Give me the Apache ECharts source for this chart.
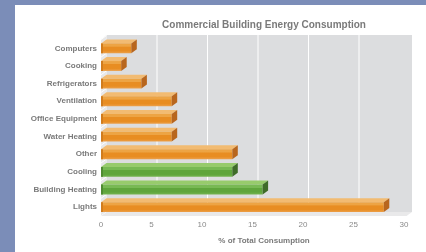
<!DOCTYPE html>
<html><head><meta charset="utf-8">
<script src="https://cdn.jsdelivr.net/npm/echarts@6/dist/echarts.min.js"></script>
<style>html,body{margin:0;padding:0;background:#fff}#c{width:426px;height:252px}</style>
</head><body><div id="c"></div>
<script>
const categories = ['Computers','Cooking','Refrigerators','Ventilation','Office Equipment','Water Heating','Other','Cooling','Building Heating','Lights'];
const values = [3,2,4,7,7,7,13,13,16,28];
const greenCategories = ['Cooling','Building Heating'];
const xTicks = [0,5,10,15,20,25,30];
const titleText = 'Commercial Building Energy Consumption';
const xAxisName = '% of Total Consumption';

const DX = 5.5, DY = -4;
const FONT = '"Liberation Sans", Arial, sans-serif';
const PAL = {
  orange: {top:'#f2bb72', f1:'#eda444', f2:'#e88d22', f3:'#eca04a', cap:'#b8661e', left:'#d07c1e'},
  green: {top:'#97cb6c', f1:'#78b954', f2:'#5fa53c', f3:'#74b450', cap:'#3f6c29', left:'#4f8a32'}
};

const chart = echarts.init(document.getElementById('c'), null, {renderer:'canvas'});

function wallItem(params, api) {
  const cs = params.coordSys;
  const x0 = cs.x, y0 = cs.y, yb = cs.y + cs.height;
  const xr = api.coord([xTicks[xTicks.length-1], 0])[0];
  const children = [];
  children.push({type:'rect', shape:{x:x0+DX, y:y0+DY-0.5, width:xr+8-(x0+DX), height:yb+DY-(y0+DY-0.5)}, style:{fill:'#dcdddf'}});
  children.push({type:'polygon', shape:{points:[[x0,y0],[x0+DX,y0+DY-0.5],[x0+DX,yb+DY],[x0,yb]]}, style:{fill:'#e8e8e9'}});
  const band = cs.height / categories.length;
  for (let i=0;i<=categories.length;i++){
    const y = y0 + i*band;
    children.push({type:'line', shape:{x1:x0, y1:y, x2:x0+DX, y2:y+DY}, style:{stroke:'#ffffff', lineWidth:1}});
  }
  children.push({type:'polygon', shape:{points:[[x0,yb],[x0+DX,yb+DY],[xr+8,yb+DY],[xr+2.5,yb]]}, style:{fill:'#e9e9ea'}});
  xTicks.forEach(v=>{
    if (v===0 || v===xTicks[xTicks.length-1]) return;
    const x = api.coord([v,0])[0] + DX;
    children.push({type:'line', shape:{x1:x, y1:y0+DY-0.5, x2:x, y2:yb+DY}, style:{stroke:'#ffffff', lineWidth:1}});
  });
  return {type:'group', children};
}

function barItem(params, api) {
  const idx = api.value(1);
  const end = api.coord([api.value(0), idx]);
  const start = api.coord([0, idx]);
  const h = api.size([0,1])[1] * 0.56;
  const top = end[1] - h/2, bot = end[1] + h/2;
  const p = greenCategories.includes(categories[idx]) ? PAL.green : PAL.orange;
  const sx = start[0], ex = end[0];
  return {type:'group', children:[
    {type:'polygon', shape:{points:[[sx,top],[ex,top],[ex+DX,top+DY],[sx+DX,top+DY]]}, style:{fill:p.top}},
    {type:'rect', shape:{x:sx, y:top, width:ex-sx, height:h}, style:{fill:new echarts.graphic.LinearGradient(0,0,0,1,[
      {offset:0,color:p.f1},{offset:0.3,color:p.f1},{offset:0.35,color:p.f2},{offset:0.75,color:p.f2},{offset:1,color:p.f3}])}},
    {type:'rect', shape:{x:sx, y:top, width:2, height:h}, style:{fill:p.left}},
    {type:'polygon', shape:{points:[[ex,top],[ex+DX,top+DY],[ex+DX,bot+DY],[ex,bot]]}, style:{fill:p.cap}}
  ]};
}

chart.setOption({
  backgroundColor:'#ffffff',
  animation:false,
  graphic:[
    {type:'rect', left:0, top:0, shape:{width:15, height:252}, style:{fill:'#7b8db8'}, z:-10},
    {type:'rect', left:0, top:0, shape:{width:426, height:5}, style:{fill:'#7b8db8'}, z:-10}
  ],
  title:[
    {text:titleText, left:259, top:15, textAlign:'center', textStyle:{fontFamily:FONT, fontSize:10, fontWeight:'bold', color:'#7a7a7a'}},
    {text:xAxisName, left:259, top:232, textAlign:'center', textStyle:{fontFamily:FONT, fontSize:8, fontWeight:'bold', color:'#7a7a7a'}}
  ],
  grid:{left:101, right:22, top:39.5, bottom:36, containLabel:false},
  xAxis:{type:'value', min:0, max:30, interval:5,
    axisLine:{show:false}, axisTick:{show:false}, splitLine:{show:false},
    axisLabel:{margin:5, fontFamily:FONT, fontSize:8, color:'#8a8a8a'}},
  yAxis:{type:'category', data:categories, inverse:true,
    axisLine:{show:false}, axisTick:{show:false}, splitLine:{show:false},
    axisLabel:{margin:4, fontFamily:FONT, fontSize:8, fontWeight:'bold', color:'#7a7a7a'}},
  series:[
    {type:'custom', renderItem:wallItem, data:[[0,0]], encode:{x:0,y:1}, silent:true, z:1},
    {type:'custom', renderItem:barItem, data:values.map((v,i)=>[v,i]), encode:{x:0,y:1}, z:2}
  ]
});
</script></body></html>
